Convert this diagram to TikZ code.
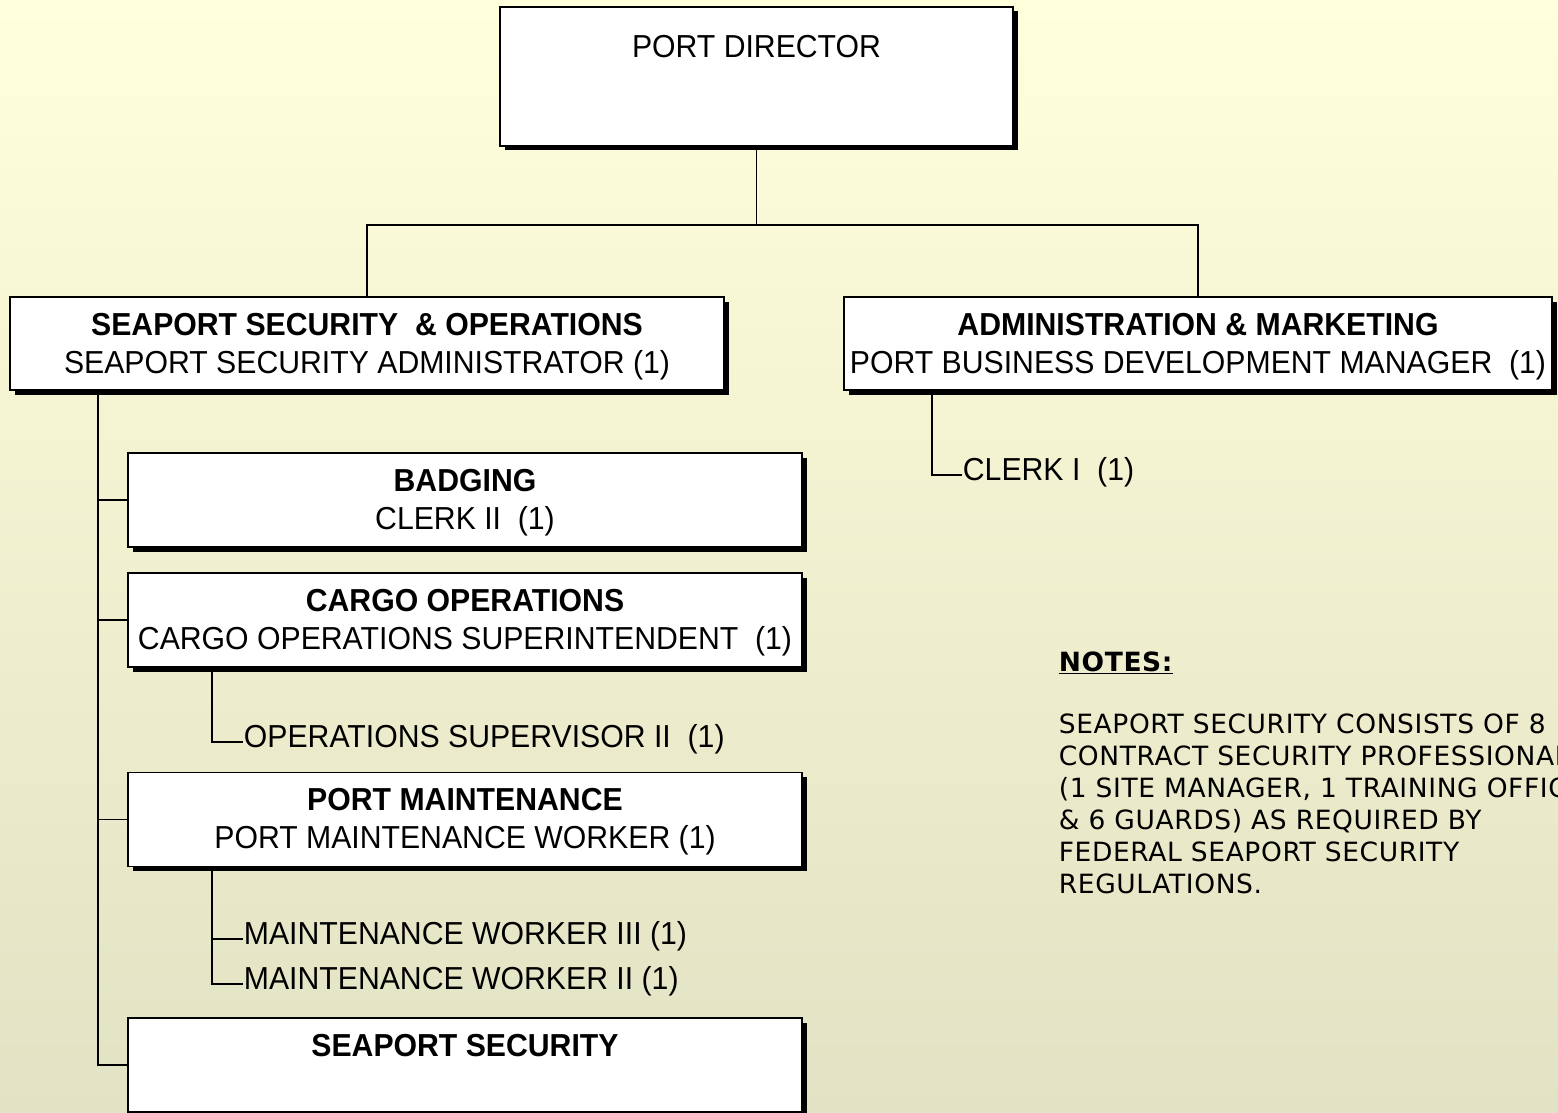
\documentclass[tikz,border=0pt]{standalone}
\usepackage{fontspec}
\setmainfont{Liberation Sans}[FakeStretch=0.95]
\newfontfamily\notefont{DejaVu Sans}[LetterSpace=2.3]
\usetikzlibrary{calc}
\usetikzlibrary{positioning}
\usetikzlibrary{shadows}
\definecolor{bgtop}{RGB}{255,255,220}
\definecolor{bgbot}{RGB}{226,226,196}

\begin{document}
\begin{tikzpicture}[x=1pt,y=-1pt,line width=1.8pt,inner sep=0pt,
  unit/.style={draw,fill=white,rectangle,drop shadow={shadow xshift=4.5pt,shadow yshift=-4.5pt,fill=black,opacity=1}},
  txt/.style={font=\fontsize{31.8}{38}\selectfont,align=center},
  sub/.style={font=\fontsize{31.8}{38}\selectfont,anchor=west,text depth=12pt},
  notehead/.style={font=\notefont\bfseries\fontsize{26.5}{32}\selectfont,anchor=north west},
  note/.style={font=\notefont\fontsize{26.5}{32}\selectfont,align=left,anchor=north west}]
\useasboundingbox (0,0) rectangle (1558,1113);
\fill [top color=bgtop,bottom color=bgbot] (0,0) rectangle (1558,1113);
\node [unit,minimum width=513pt,minimum height=139pt] (PD) at (756.5,76.5) {};
\node [unit,minimum width=714pt,minimum height=93pt] (SSO) at (367,343.5) {};
\node [unit,minimum width=708pt,minimum height=93pt] (ADM) at (1198,343.5) {};
\foreach \n/\y in {BDG/500,CGO/620,PMT/819.5,SEC/1065}
  \node [unit,minimum width=674pt,minimum height=94pt] (\n) at (465,\y) {};
\node [txt,below=28.5pt of PD.north] (PDt) {PORT DIRECTOR};
\node [txt,below=16pt of SSO.north] (SSOt) {\textbf{SEAPORT SECURITY~ \& OPERATIONS}\\SEAPORT SECURITY ADMINISTRATOR (1)};
\node [txt,below=16pt of ADM.north] (ADMt) {\textbf{ADMINISTRATION \& MARKETING}\\PORT BUSINESS DEVELOPMENT MANAGER~ (1)};
\node [txt,below=16pt of BDG.north] (BDGt) {\textbf{BADGING}\\CLERK II~ (1)};
\node [txt,below=16pt of CGO.north] (CGOt) {\textbf{CARGO OPERATIONS}\\CARGO OPERATIONS SUPERINTENDENT~ (1)};
\node [txt,below=16pt of PMT.north] (PMTt) {\textbf{PORT MAINTENANCE}\\PORT MAINTENANCE WORKER (1)};
\node [txt,below=16pt of SEC.north] (SECt) {\textbf{SEAPORT SECURITY}};
\node [sub] (CLK) at (962,475) {CLERK I~ (1)};
\node [sub] (OPS) at (243,742) {OPERATIONS SUPERVISOR II~ (1)};
\node [sub] (MW3) at (243,939) {MAINTENANCE WORKER III (1)};
\node [sub] (MW2) at (243,984) {MAINTENANCE WORKER II (1)};
\draw (PD.south) -- ++(0,78) coordinate (split);
\draw (SSO.north) |- (split) -| (ADM.north);
\coordinate (stem) at ($(SSO.south west)+(89,0)$);
\draw (stem) |- (SEC.west);
\foreach \n in {BDG,CGO,PMT}
  \draw (stem |- \n.west) -- (\n.west);
\draw ($(CGO.south west)+(85,0)$) |- (OPS.west);
\coordinate (pmstem) at ($(PMT.south west)+(85,0)$);
\draw (pmstem) |- (MW2.west);
\draw (pmstem |- MW3.west) -- (MW3.west);
\draw ($(ADM.south west)+(89,0)$) |- (CLK.west);
\node [notehead] (NT) at (1058,651) {\underline{NOTES:}};
\node [note] (NB) at (1058,713) {SEAPORT SECURITY CONSISTS OF 8\\CONTRACT SECURITY PROFESSIONALS\\(1 SITE MANAGER, 1 TRAINING OFFICER\\\& 6 GUARDS) AS REQUIRED BY\\FEDERAL SEAPORT SECURITY\\REGULATIONS.};
\end{tikzpicture}
\end{document}
